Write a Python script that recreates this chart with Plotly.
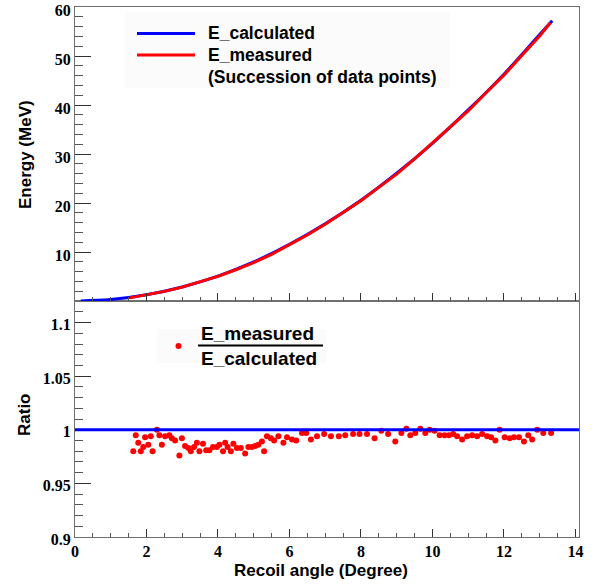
import plotly.graph_objects as go

# ---------------- data ----------------
calc_angle = [0.16, 1, 2, 3, 4, 5, 6, 7, 8, 9, 10, 11, 12, 13, 13.35]
calc_energy = [0.05, 0.32, 1.3, 2.9, 5.1, 8.0, 11.6, 15.8, 20.6, 26.1, 32.2, 39.0, 46.3, 54.4, 57.2]

meas_angle = [1.53, 2.0, 2.5, 3.0, 3.5, 4.0, 4.5, 5.0, 5.5, 6.0, 6.5, 7.0, 7.5,
              8.0, 8.5, 9.0, 9.5, 10.0, 10.5, 11.0, 11.5, 12.0, 12.5, 13.0, 13.3]
meas_energy = [0.67, 1.28, 1.99, 2.86, 3.90, 5.04, 6.40, 7.88, 9.55, 11.45, 13.5, 15.7, 18.05,
               20.5, 23.2, 25.9, 29.0, 32.2, 35.4, 38.8, 42.5, 46.1, 50.1, 54.1, 56.8]

ratio_angle = [1.63, 1.70, 1.77, 1.84, 1.91, 1.96, 2.05, 2.12, 2.17, 2.29, 2.36, 2.43, 2.52,
               2.64, 2.71, 2.80, 2.92, 2.99, 3.08, 3.17, 3.24, 3.33, 3.41, 3.48, 3.58, 3.67,
               3.76, 3.86, 3.97, 4.04, 4.14, 4.20, 4.27, 4.36, 4.43, 4.53, 4.64, 4.76, 4.85,
               4.95, 5.04, 5.13, 5.23, 5.29, 5.37, 5.48, 5.57, 5.69, 5.83, 5.93, 6.07, 6.19,
               6.35, 6.47, 6.60, 6.77, 6.97, 7.16, 7.38, 7.56, 7.78, 7.96, 8.17, 8.38, 8.57,
               8.76, 8.96, 9.13, 9.27, 9.38, 9.52, 9.66, 9.80, 9.92, 10.06, 10.20, 10.34,
               10.46, 10.58, 10.69, 10.83, 10.97, 11.11, 11.25, 11.39, 11.53, 11.64, 11.76,
               11.88, 12.02, 12.16, 12.28, 12.42, 12.56, 12.68, 12.79, 12.93, 13.10, 13.32]
ratio_value = [0.980, 0.995, 0.988, 0.980, 0.984, 0.993, 0.986, 0.994, 0.980, 1.000, 0.995,
               0.986, 0.994, 0.995, 0.992, 0.990, 0.976, 0.992, 0.985, 0.983, 0.980, 0.984,
               0.988, 0.980, 0.987, 0.981, 0.981, 0.984, 0.984, 0.986, 0.980, 0.988, 0.984,
               0.980, 0.987, 0.983, 0.983, 0.978, 0.984, 0.984, 0.985, 0.986, 0.989, 0.980,
               0.994, 0.992, 0.990, 0.994, 0.988, 0.993, 0.991, 0.990, 0.997, 0.997, 0.991,
               0.994, 0.996, 0.994, 0.994, 0.995, 0.996, 0.996, 0.996, 0.992, 0.999, 0.996,
               0.989, 0.997, 1.001, 0.995, 0.997, 1.001, 0.997, 1.000, 0.999, 0.995, 0.995,
               0.995, 0.996, 0.994, 0.991, 0.994, 0.995, 0.994, 0.996, 0.994, 0.993, 0.990,
               1.000, 0.993, 0.992, 0.993, 0.993, 0.989, 0.995, 0.991, 1.000, 0.997, 0.997]

ratio_ticks = [0.9, 0.95, 1.0, 1.05, 1.1]
ratio_ticktext = ["0.9", "0.95", "1", "1.05", "1.1"]
energy_ticks = [10, 20, 30, 40, 50, 60]

# ---------------- layout geometry ----------------
W, H = 595, 585
ML, MR, MT, MB = 75, 16, 7, 48
PW, PH = W - ML - MR, H - MT - MB
SPLIT = 0.445

def px(xp):
    return (xp - ML) / PW

def py(yp):
    return (H - MB - yp) / PH

BLUE = "#0000ff"
RED = "#ff0000"
SANS = "Liberation Sans, Arial, sans-serif"
SERIF = "Liberation Serif, Times New Roman, serif"

fig = go.Figure()

fig.add_trace(go.Scatter(x=calc_angle, y=calc_energy, mode="lines", line=dict(color=BLUE, width=3, shape="spline"),
                         xaxis="x2", yaxis="y", showlegend=False))
fig.add_trace(go.Scatter(x=meas_angle, y=meas_energy, mode="lines", line=dict(color=RED, width=3),
                         xaxis="x2", yaxis="y", showlegend=False))
fig.add_trace(go.Scatter(x=ratio_angle, y=ratio_value, mode="markers", marker=dict(color=RED, size=6),
                         xaxis="x", yaxis="y2", showlegend=False))

fig.add_hline(y=1.0, line=dict(color=BLUE, width=3), xref="x", yref="y2")

axis_common = dict(showline=True, linecolor="#707070", linewidth=1, mirror=True, automargin=False,
                   ticks="inside", tickcolor="#333333", showgrid=False, zeroline=False,
                   ticklabeloverflow="allow")
tick_font = dict(family=SERIF, size=16, color="black", weight="bold")

fig.update_layout(
    width=W, height=H,
    margin=dict(l=ML, r=MR, t=MT, b=MB, autoexpand=False),
    paper_bgcolor="white", plot_bgcolor="white",
    showlegend=False,
    xaxis=dict(domain=[0, 1], range=[0, 14.1], anchor="y2", dtick=2, tick0=0, ticklen=8,
               minor=dict(dtick=0.5, tick0=0, ticklen=4, ticks="inside", tickcolor="#555555"),
               tickfont=tick_font, **axis_common),
    xaxis2=dict(domain=[0, 1], range=[0, 14.1], anchor="y", matches="x", dtick=2, tick0=0, ticklen=8,
                showticklabels=False,
                minor=dict(dtick=0.5, tick0=0, ticklen=4, ticks="inside", tickcolor="#555555"),
                **axis_common),
    yaxis=dict(domain=[SPLIT, 1], range=[0, 60], anchor="x2", tickvals=energy_ticks, ticklen=16,
               ticklabelshift=3,
               minor=dict(dtick=2, tick0=0, ticklen=8, ticks="inside", tickcolor="#555555"),
               tickfont=tick_font, **axis_common),
    yaxis2=dict(domain=[0, SPLIT], range=[0.9, 1.12], anchor="x", tickvals=ratio_ticks,
                ticktext=ratio_ticktext, ticklen=16, ticklabelshift=2,
                minor=dict(dtick=0.01, tick0=0.9, ticklen=8, ticks="inside", tickcolor="#555555"),
                tickfont=tick_font, **axis_common),
)

title_font = dict(family=SANS, size=17, color="black", weight="bold")
annotations = [
    dict(text="Energy (MeV)", x=px(25), y=py(155), textangle=-90, font=title_font),
    dict(text="Ratio", x=px(24), y=py(415), textangle=-90, font=title_font),
    dict(text="Recoil angle (Degree)", x=px(321), y=py(570), font=title_font),
]
leg_font = dict(family=SANS, size=17.5, color="black", weight="bold")
annotations += [
    dict(text="E_calculated", x=px(206), y=py(33), xanchor="left", font=leg_font),
    dict(text="E_measured", x=px(206), y=py(54.5), xanchor="left", font=leg_font),
    dict(text="(Succession of data points)", x=px(206), y=py(76.5), xanchor="left", font=leg_font),
]
frac_font = dict(family=SANS, size=19, color="black", weight="bold")
annotations += [
    dict(text="E_measured", x=px(199), y=py(333), xanchor="left", font=frac_font),
    dict(text="E_calculated", x=px(199), y=py(358), xanchor="left", font=frac_font),
]
for a in annotations:
    a.update(xref="paper", yref="paper", showarrow=False)
    a.setdefault("xanchor", "center")
    a.setdefault("yanchor", "middle")
fig.update_layout(annotations=annotations)

shapes = [
    # legend backgrounds (very faint)
    dict(type="rect", x0=px(125), x1=px(450), y0=py(88), y1=py(12), fillcolor="#fbfbfb",
         line=dict(width=0), layer="below"),
    dict(type="rect", x0=px(157), x1=px(326), y0=py(363), y1=py(329), fillcolor="#fbfbfb",
         line=dict(width=0), layer="below"),
    # legend line samples
    dict(type="line", x0=px(137), x1=px(195), y0=py(33.5), y1=py(33.5), line=dict(color=BLUE, width=3)),
    dict(type="line", x0=px(137), x1=px(195), y0=py(55), y1=py(55), line=dict(color=RED, width=3)),
    # fraction bar
    dict(type="line", x0=px(198), x1=px(323), y0=py(345.5), y1=py(345.5), line=dict(color="black", width=2)),
    # red dot marker of the ratio legend
    dict(type="circle", x0=px(175.5), x1=px(181.5), y0=py(349), y1=py(343), fillcolor=RED,
         line=dict(width=0)),
]
for s in shapes:
    s.update(xref="paper", yref="paper")
fig.update_layout(shapes=list(fig.layout.shapes) + shapes)

fig.write_html("out.html", config={"displayModeBar": False},
               post_script="document.body.style.margin='0';document.body.style.padding='0';")
